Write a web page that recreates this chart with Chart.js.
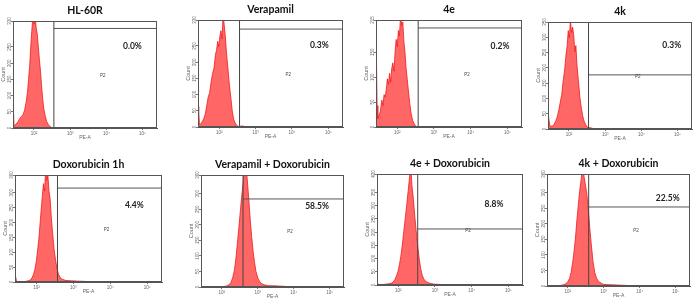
<!DOCTYPE html>
<html lang="en">
<head>
<meta charset="UTF-8">
<title>PE-A histograms</title>
<script src="https://cdn.jsdelivr.net/npm/chart.js"></script>
<style>
  body { margin: 0; background: #fff; }
  #wrap { position: relative; width: 696px; height: 303px; overflow: hidden; }
  #wrap canvas { position: absolute; }
</style>
</head>
<body>
<div id="wrap"></div>
<script>
// histogram bins: x = log10(PE-A), y = count
const hl60rX = [1.41,1.43,1.45,1.5,1.55,1.6,1.65,1.7,1.74,1.78,1.82,1.85,1.88,1.91,1.94,1.97,2.0,2.03,2.06,2.09,2.12,2.15,2.18,2.21,2.24,2.27,2.31,2.35,2.4,2.45,2.5,2.55];
const hl60rY = [85,60,5,12,18,28,35,42,55,78,110,150,190,250,300,345,320,350,310,290,250,210,175,130,90,60,38,20,10,4,1,0];
const verX = [1.42,1.44,1.46,1.5,1.54,1.58,1.62,1.66,1.7,1.74,1.78,1.82,1.86,1.9,1.93,1.96,1.99,2.02,2.05,2.08,2.11,2.14,2.17,2.2,2.24,2.28,2.32,2.36,2.4,2.45,2.5,2.55,2.6,2.66,2.7];
const verY = [63,50,7,10,17,26,40,66,92,106,139,165,182,224,238,264,248,280,297,271,346,314,280,231,182,132,92,50,23,10,3,0,3,3,0];
const e4X = [1.42,1.43,1.45,1.47,1.5,1.54,1.58,1.61,1.64,1.67,1.7,1.73,1.76,1.79,1.82,1.85,1.88,1.91,1.94,1.97,2.0,2.03,2.06,2.09,2.12,2.15,2.18,2.21,2.24,2.27,2.3,2.34,2.38,2.42,2.46,2.5,2.55];
const e4Y = [183,150,43,17,22,32,54,43,65,60,75,97,86,108,90,118,129,112,150,176,161,194,183,226,204,211,172,150,118,97,75,47,26,13,6,2,0];
const k4X = [1.43,1.45,1.48,1.52,1.56,1.6,1.64,1.68,1.72,1.76,1.8,1.84,1.88,1.92,1.95,1.98,2.01,2.04,2.07,2.1,2.13,2.16,2.19,2.22,2.26,2.3,2.34,2.38,2.42,2.46,2.5,2.55,2.6,2.65,2.7];
const k4Y = [46,28,7,10,10,18,28,42,63,88,112,158,193,245,273,322,298,357,315,333,308,252,273,210,158,105,70,42,25,14,7,4,4,2,0];
const doxX = [1.43,1.46,1.5,1.6,1.7,1.78,1.84,1.88,1.92,1.96,2.0,2.04,2.07,2.1,2.13,2.16,2.19,2.22,2.25,2.28,2.31,2.34,2.37,2.4,2.44,2.48,2.52,2.56,2.6,2.65,2.7,2.8,2.95,3.1,3.3,3.5,3.65,3.7];
const doxY = [22,4,0,0,2,4,7,14,25,43,72,115,151,198,245,288,331,306,378,342,360,306,281,223,162,108,72,43,25,14,9,5,4,3,2,1,1,0];
const verDoxX = [2.0,2.08,2.15,2.2,2.25,2.3,2.35,2.39,2.43,2.47,2.51,2.55,2.59,2.63,2.67,2.71,2.75,2.79,2.83,2.87,2.91,2.95,3.0,3.05,3.1,3.18,3.3,3.45,3.6,3.75,3.9,4.0];
const verDoxY = [0,2,4,7,14,29,54,90,137,187,238,288,331,378,396,342,281,216,162,115,79,50,29,18,11,7,4,4,3,2,1,0];
const e4DoxX = [1.42,1.5,1.6,1.7,1.8,1.86,1.91,1.95,1.99,2.03,2.07,2.11,2.15,2.19,2.23,2.27,2.31,2.34,2.37,2.41,2.45,2.49,2.53,2.57,2.61,2.65,2.7,2.76,2.83,2.9,3.0,3.15,3.3,3.4];
const e4DoxY = [4,2,2,4,6,11,21,34,50,76,109,151,202,252,302,357,412,462,378,328,260,202,147,101,63,38,21,13,8,5,3,2,1,0];
const k4DoxX = [1.7,1.8,1.88,1.94,2.0,2.05,2.09,2.13,2.17,2.21,2.25,2.29,2.33,2.37,2.41,2.45,2.49,2.53,2.57,2.61,2.65,2.7,2.75,2.8,2.86,2.93,3.0,3.2,3.4,3.6,3.8,3.85];
const k4DoxY = [0,2,4,7,14,25,43,72,108,151,209,259,306,342,389,353,324,295,245,187,137,79,43,25,14,9,5,4,3,2,1,0];

const titles = ['HL-60R', 'Verapamil', '4e', '4k', 'Doxorubicin 1h', 'Verapamil + Doxorubicin', '4e + Doxorubicin', '4k + Doxorubicin'];
const percents = ['0.0%', '0.3%', '0.2%', '0.3%', '4.4%', '58.5%', '8.8%', '22.5%'];
const histX = [hl60rX, verX, e4X, k4X, doxX, verDoxX, e4DoxX, k4DoxX];
const histY = [hl60rY, verY, e4Y, k4Y, doxY, verDoxY, e4DoxY, k4DoxY];
const gateX = [2.55, 2.56, 2.57, 2.54, 2.57, 2.59, 2.53, 2.58];   // P2 gate left edge (log)
const gateY = [307, 302, 199, 177, 316, 283, 212, 254];          // P2 gate bottom edge (count)
const yMax = [330, 330, 215, 350, 360, 360, 420, 360];
const xTickValues = [2, 3, 4, 5];
const xTickLabels = ['10²', '10³', '10⁴', '10⁵'];
const X_MIN = 1.42, X_MAX = 5.4;

// plot box [left, top, right, bottom] in page px, and % label spot (log x, fraction from top)
const panels = [
  { box: [13, 21, 157, 128], pct: [4.72, 0.24] },
  { box: [198, 20, 343, 127], pct: [4.75, 0.24] },
  { box: [376, 20, 522, 127], pct: [4.8, 0.25] },
  { box: [548, 22, 692, 129], pct: [4.84, 0.22] },
  { box: [15, 175, 162, 282], pct: [4.65, 0.28] },
  { box: [201, 175, 344, 287], pct: [4.65, 0.28] },
  { box: [377, 174, 523, 285], pct: [4.61, 0.27] },
  { box: [547, 174, 690, 286], pct: [4.78, 0.22] }
];

const Y_W = 13, X_H = 13, TITLE_H = 17;

const framePlugin = {
  id: 'frame',
  afterDraw(chart, args, opts) {
    const { ctx, chartArea: a, scales } = chart;
    const p = panels[opts.idx];
    ctx.save();
    // rotated y tick labels
    ctx.fillStyle = '#666';
    ctx.font = '4.5px Arial';
    ctx.textAlign = 'center';
    ctx.textBaseline = 'middle';
    scales.y.ticks.forEach((t, i) => {
      ctx.save();
      ctx.translate(a.left - 3.5, scales.y.getPixelForTick(i));
      ctx.rotate(-Math.PI / 2);
      ctx.fillText(String(t.value), 0, 0);
      ctx.restore();
    });
    // box
    ctx.strokeStyle = '#555';
    ctx.lineWidth = 1;
    ctx.strokeRect(a.left + 0.5, a.top + 0.5, a.right - a.left - 1, a.bottom - a.top - 1);
    // gate name
    ctx.fillStyle = '#444';
    ctx.font = '4.5px Arial';
    ctx.fillText('P2', scales.x.getPixelForValue(3.9), a.top + (a.bottom - a.top) * 0.51);
    // percentage
    ctx.fillStyle = '#222';
    ctx.font = 'bold 8.5px Lato';
    ctx.fillText(percents[opts.idx], scales.x.getPixelForValue(p.pct[0]), a.top + (a.bottom - a.top) * p.pct[1]);
    ctx.restore();
  }
};

const wrap = document.getElementById('wrap');

panels.forEach((p, i) => {
  const [L, T, R, B] = p.box;
  const cv = document.createElement('canvas');
  cv.width = R - L + Y_W + 1;
  cv.height = B - T + TITLE_H + X_H;
  cv.style.left = (L - Y_W) + 'px';
  cv.style.top = (T - TITLE_H) + 'px';
  wrap.appendChild(cv);

  const hist = histX[i].map((x, k) => ({ x: x, y: histY[i][k] }));
  const gateV = [{ x: gateX[i], y: 0 }, { x: gateX[i], y: yMax[i] }];
  const gateH = [{ x: gateX[i], y: gateY[i] }, { x: X_MAX, y: gateY[i] }];

  new Chart(cv, {
    type: 'line',
    data: {
      datasets: [
        { data: gateV, borderColor: '#444', borderWidth: 1, pointRadius: 0, fill: false, order: 0 },
        { data: gateH, borderColor: '#555', borderWidth: 1, pointRadius: 0, fill: false, order: 0 },
        { data: hist, borderColor: '#f01a1a', backgroundColor: 'rgba(255,70,70,0.82)', borderWidth: 0.8,
          pointRadius: 0, fill: 'origin', tension: 0, order: 1 }
      ]
    },
    options: {
      responsive: false,
      animation: false,
      events: [],
      layout: { padding: { right: 1 } },
      plugins: {
        legend: { display: false },
        tooltip: { enabled: false },
        title: {
          display: true,
          text: titles[i],
          fullSize: false,
          color: '#111',
          font: { family: 'Lato', weight: 'bold', size: 10.5, lineHeight: '13px' },
          padding: { top: 0, bottom: 4 }
        },
        frame: { idx: i }
      },
      scales: {
        x: {
          type: 'linear',
          min: X_MIN,
          max: X_MAX,
          afterBuildTicks: s => { s.ticks = xTickValues.map(v => ({ value: v })); },
          afterFit: s => { s.height = X_H; },
          ticks: {
            autoSkip: false, maxRotation: 0, padding: 1.5, color: '#666',
            font: { family: 'Arial', size: 4.5 },
            callback: (v, k) => xTickLabels[k]
          },
          grid: { drawOnChartArea: false, tickLength: 2, color: '#777' },
          border: { color: '#555' },
          title: { display: true, text: 'PE-A', color: '#666', font: { family: 'Arial', size: 5 }, padding: 0 }
        },
        y: {
          min: 0,
          max: yMax[i],
          afterFit: s => { s.width = Y_W; },
          ticks: { stepSize: 50, display: false },
          grid: { drawOnChartArea: false, tickLength: 2, color: '#777' },
          border: { color: '#555' },
          title: { display: true, text: 'Count', color: '#666', font: { family: 'Arial', size: 5.5 }, padding: 0 }
        }
      }
    },
    plugins: [framePlugin]
  });
});
</script>
</body>
</html>
